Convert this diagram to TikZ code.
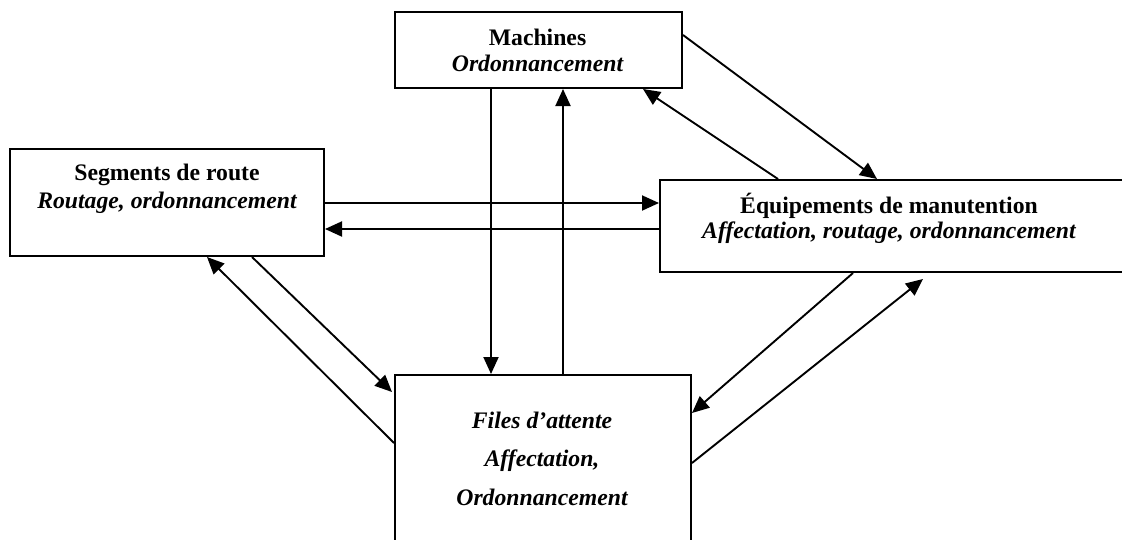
\documentclass[tikz,border=0pt]{standalone}
\usepackage{fontspec}
\setmainfont{Liberation Serif}
\usetikzlibrary{arrows.meta,calc}
\begin{document}
\begin{tikzpicture}[x=1pt,y=-1pt,
  box/.style={draw,line width=2pt,rectangle,anchor=north west,inner sep=0pt},
  lbl/.style={anchor=base,inner sep=0pt,font=\fontsize{23.7}{26}\selectfont\bfseries},
  ital/.style={anchor=base,inner sep=0pt,font=\fontsize{23.7}{26}\selectfont\bfseries\itshape},
  link/.style={line width=1.9pt,-{Triangle[length=17pt,width=15pt]}}]
\useasboundingbox (0,0) rectangle (1122,539);

% the four decision levels
\node[box,minimum width=287pt,minimum height=76pt]  (mach)  at (394,11)  {};
\node[box,minimum width=314pt,minimum height=107pt] (seg)   at (9,148)   {};
\node[box,minimum width=465pt,minimum height=92pt]  (equ)   at (659,179) {};
\node[box,minimum width=296pt,minimum height=172pt] (files) at (394,374) {};

% titles and decisions
\node[lbl]  (machA)  at (537.5,45) {Machines};
\node[ital] (machB)  at (537.5,71) {Ordonnancement};
\node[lbl]  (segA)   at (167,180)  {Segments de route};
\node[ital] (segB)   at (167,208)  {Routage, ordonnancement};
\node[lbl]  (equA)   at (889,213)  {Équipements de manutention};
\node[ital] (equB)   at (889,238)  {Affectation, routage, ordonnancement};
\node[ital] (filesA) at (542,428)  {Files d’attente};
\node[ital] (filesB) at (542,466)  {Affectation,};
\node[ital] (filesC) at (542,505)  {Ordonnancement};

% machines <-> files
\draw[link] ($(mach.south west)+(97,0)$)   -- ($(files.north west)+(97,0)$);
\draw[link] ($(files.north west)+(169,0)$) -- ($(mach.south west)+(169,0)$);
% machines <-> handling equipment
\draw[link] ($(mach.north east)+(0,24)$)   -- ($(equ.north west)+(218,0)$);
\draw[link] ($(equ.north west)+(119,0)$)   -- ($(mach.south west)+(249,0)$);
% road segments <-> handling equipment
\draw[link] ($(seg.north east)+(0,55)$)    -- ($(equ.north west)+(0,24)$);
\draw[link] ($(equ.north west)+(0,50)$)    -- ($(seg.north east)+(0,81)$);
% road segments <-> files
\draw[link] ($(seg.south west)+(243,0)$)   -- ($(files.north west)+(-2,18)$);
\draw[link] ($(files.north west)+(0,69)$)  -- ($(seg.south west)+(198,0)$);
% handling equipment <-> files
\draw[link] ($(equ.south west)+(194,0)$)   -- ($(files.north east)+(0,39)$);
\draw[link] ($(files.north east)+(0,89)$)  -- ($(equ.south west)+(264,6)$);
\end{tikzpicture}
\end{document}
